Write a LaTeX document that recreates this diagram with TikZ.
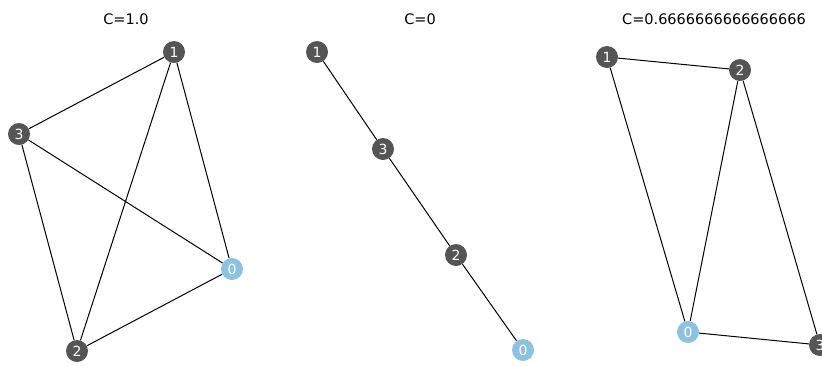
\documentclass[tikz,border=0pt]{standalone}
\usepackage{fontspec}
\setmainfont{DejaVu Sans}
\usepackage{tikz}
\definecolor{nodegray}{RGB}{85,85,85}
\definecolor{seedblue}{RGB}{142,194,222}

\begin{document}
\begin{tikzpicture}[
    x=1pt, y=-1pt,
    vtx/.style={circle, fill=nodegray, text=white, inner sep=0pt, minimum size=22pt,
                font=\fontsize{14}{14}\selectfont},
    seed/.style={vtx, fill=seedblue},
    ttl/.style={font=\fontsize{14.5}{14.5}\selectfont, text=black},
    edge/.style={draw=black, line width=1pt}
  ]
    \useasboundingbox (0,0) rectangle (822,365);
    \clip (0,0) rectangle (822,365);
    % panel 1
    \node[ttl] (T1) at (126,19) {C=1.0};
    \node[vtx]  (a1) at (174,52)  {1};
    \node[vtx]  (a3) at (19,134)  {3};
    \node[seed] (a0) at (232,269) {0};
    \node[vtx]  (a2) at (77,351)  {2};
    \draw[edge] (a1)--(a3); \draw[edge] (a1)--(a2); \draw[edge] (a1)--(a0);
    \draw[edge] (a3)--(a0); \draw[edge] (a3)--(a2); \draw[edge] (a2)--(a0);
    % panel 2
    \node[ttl] (T2) at (420,19) {C=0};
    \node[vtx]  (b1) at (317,52)  {1};
    \node[vtx]  (b3) at (383,149) {3};
    \node[vtx]  (b2) at (456,255) {2};
    \node[seed] (b0) at (523,350) {0};
    \draw[edge] (b1)--(b3); \draw[edge] (b3)--(b2); \draw[edge] (b2)--(b0);
    % panel 3
    \node[ttl] (T3) at (714,19) {C=0.6666666666666666};
    \node[vtx]  (c1) at (607,57)  {1};
    \node[vtx]  (c2) at (740,70)  {2};
    \node[seed] (c0) at (688,332) {0};
    \node[vtx]  (c3) at (820,345) {3};
    \draw[edge] (c1)--(c2); \draw[edge] (c1)--(c0); \draw[edge] (c2)--(c0);
    \draw[edge] (c2)--(c3); \draw[edge] (c0)--(c3);
  \end{tikzpicture}
\end{document}
